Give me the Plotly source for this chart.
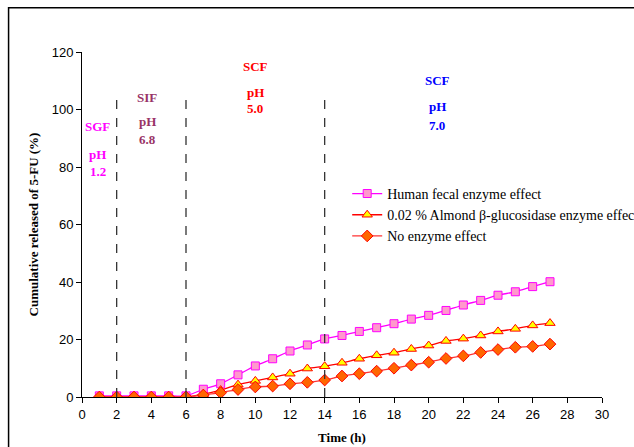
import plotly.graph_objects as go

time_h = list(range(1, 28))
human_fecal = [0.4, 0.4, 0.4, 0.4, 0.4, 0.4, 2.7, 4.6, 7.7, 10.8, 13.3, 16.0, 18.1, 20.2,
               21.4, 22.8, 24.1, 25.5, 27.1, 28.4, 30.1, 32.0, 33.6, 35.4, 36.6, 38.4, 40.1]
almond = [0.0, 0.0, 0.0, 0.0, 0.0, 0.0, 1.0, 2.4, 4.3, 5.6, 6.8, 8.1, 9.9, 10.7,
          11.9, 13.3, 14.5, 15.4, 16.7, 17.9, 19.5, 20.3, 21.4, 22.8, 23.7, 24.9, 25.7]
no_enzyme = [0.0, 0.0, 0.0, 0.0, 0.0, 0.0, 0.7, 1.5, 2.6, 3.5, 3.8, 4.6, 5.1, 5.9,
             7.3, 8.1, 9.0, 10.0, 11.1, 12.1, 13.4, 14.3, 15.5, 16.5, 17.3, 17.6, 18.4]

names = ["Human fecal enzyme effect",
         "0.02 % Almond β-glucosidase enzyme effect",
         "No enzyme effect"]

phase_bounds = [2, 6, 14]
phase_top = 105

# (x, y, text, color)
labels = [
    (0.9, 94, "SGF", "#FF00FF"), (0.9, 84.5, "pH", "#FF00FF"), (0.9, 78.6, "1.2", "#FF00FF"),
    (3.75, 104.3, "SIF", "#993366"), (3.75, 95.8, "pH", "#993366"), (3.75, 89.7, "6.8", "#993366"),
    (10.0, 114.8, "SCF", "#FF0000"), (10.0, 106.0, "pH", "#FF0000"), (10.0, 100.5, "5.0", "#FF0000"),
    (20.5, 110.0, "SCF", "#0000FF"), (20.5, 100.9, "pH", "#0000FF"), (20.5, 94.3, "7.0", "#0000FF"),
]

serif = "Liberation Serif, Times New Roman, serif"
sans = "Liberation Sans, Arial, sans-serif"

fig = go.Figure()
fig.add_trace(go.Scatter(x=time_h, y=human_fecal, name=names[0], mode="lines+markers",
                         line=dict(color="#FF00FF", width=1.3, shape="spline", smoothing=0.8),
                         marker=dict(symbol="square", size=8, color="#FF99CC",
                                     line=dict(color="#FF00FF", width=1))))
fig.add_trace(go.Scatter(x=time_h, y=almond, name=names[1], mode="lines+markers",
                         line=dict(color="#FF0000", width=1.3, shape="spline", smoothing=0.8),
                         marker=dict(symbol="triangle-up", size=9, color="#FFFF00",
                                     line=dict(color="#FF0000", width=1))))
fig.add_trace(go.Scatter(x=time_h, y=no_enzyme, name=names[2], mode="lines+markers",
                         line=dict(color="#FF3333", width=1.3, shape="spline", smoothing=0.8),
                         marker=dict(symbol="diamond", size=9, color="#FF6600",
                                     line=dict(color="#FF0000", width=1))))

for xb in phase_bounds:
    fig.add_shape(type="line", x0=xb, x1=xb, y0=0, y1=phase_top, xref="x", yref="y",
                  line=dict(color="#333333", width=1.3, dash="dash"))

for x, y, t, c in labels:
    fig.add_annotation(x=x, y=y, text=f"<b>{t}</b>", showarrow=False, xref="x", yref="y",
                       font=dict(family=serif, size=13, color=c))

# outer chart border
fig.add_shape(type="rect", xref="paper", yref="paper", x0=-0.1412, x1=1.2, y0=-0.2, y1=1.1281,
              line=dict(color="black", width=1.5), fillcolor="rgba(0,0,0,0)")

fig.update_layout(
    width=634, height=447,
    margin=dict(l=82, r=32, t=52, b=50, autoexpand=False),
    paper_bgcolor="white", plot_bgcolor="white",
    showlegend=True,
    legend=dict(x=0.51, y=0.635, xanchor="left", yanchor="top",
                font=dict(family=serif, size=14, color="black"),
                bgcolor="rgba(0,0,0,0)", tracegroupgap=0, itemwidth=30),
    xaxis=dict(range=[0, 30], tickmode="linear", tick0=0, dtick=2, showline=True,
               linecolor="black", linewidth=1, ticks="outside", ticklen=5, tickcolor="black",
               showgrid=False, zeroline=False, automargin=False,
               tickfont=dict(family=sans, size=13, color="black"),
               title=dict(text="<b>Time (h)</b>", font=dict(family=serif, size=13, color="black"),
                          standoff=12)),
    yaxis=dict(range=[0, 120], tickmode="linear", tick0=0, dtick=20, showline=True,
               linecolor="black", linewidth=1, ticks="outside", ticklen=5, tickcolor="black",
               showgrid=False, zeroline=False, automargin=False,
               tickfont=dict(family=sans, size=13, color="black"),
               title=dict(text="<b>Cumulative released of 5-FU (%)</b>",
                          font=dict(family=serif, size=13, color="black"), standoff=10)),
)

fig.write_html("out.html")
